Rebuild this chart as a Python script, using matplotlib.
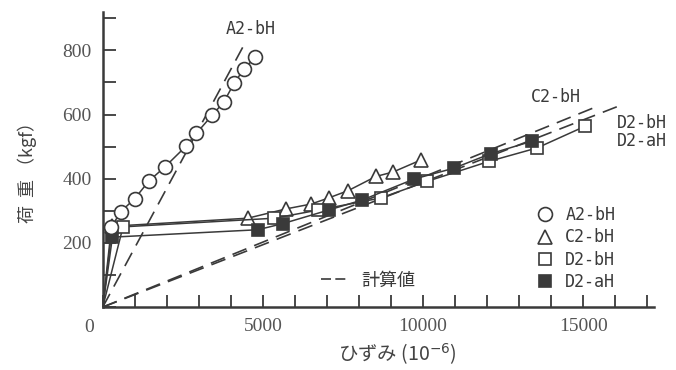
import matplotlib
matplotlib.use("Agg")
import matplotlib.pyplot as plt
from matplotlib.ticker import MultipleLocator, FixedLocator
from matplotlib.lines import Line2D

# 実験値  ひずみ (x10^-6) / 荷重 (kgf)
a2_x = [0, 271, 561, 997, 1443, 1941, 2595, 2919, 3417, 3779, 4103, 4402, 4766]
a2_y = [0, 250, 297, 338, 393, 437, 501, 541, 598, 639, 698, 741, 779]
c2_x = [0, 300, 4527, 5722, 6501, 7050, 7664, 8526, 9065, 9947]
c2_y = [0, 252, 277, 306, 321, 340, 363, 407, 421, 459]
d2b_x = [0, 632, 5358, 6708, 8682, 10134, 12056, 13561, 15047]
d2b_y = [0, 250, 277, 302, 340, 392, 454, 496, 563]
d2a_x = [0, 302, 4838, 5617, 7072, 8109, 9720, 10966, 12109, 13405]
d2a_y = [0, 218, 241, 260, 303, 334, 399, 433, 478, 517]

# 計算値
calc_a2_x = [0, 4480]
calc_a2_y = [0, 830]
calc_c2_x = [0, 15500]
calc_c2_y = [0, 628]
calc_d2_x = [0, 16200]
calc_d2_y = [0, 630]

series_names = ["A2-bH", "C2-bH", "D2-bH", "D2-aH"]

ink = "#3a3a3a"
mono = "DejaVu Sans Mono"
jp = ["Noto Sans CJK JP", "DejaVu Sans"]

fig = plt.figure(figsize=(6.76, 3.70), dpi=100)
ax = fig.add_axes([0.152, 0.170, 0.815, 0.798])

# 計算値 (破線)
dash_kw = dict(color=ink, lw=1.2, dashes=(9, 5), zorder=2)
ax.plot(calc_a2_x, calc_a2_y, **dash_kw)
ax.plot(calc_c2_x, calc_c2_y, **dash_kw)
ax.plot(calc_d2_x, calc_d2_y, **dash_kw)

# 実験値
line_kw = dict(color=ink, lw=1.1, markeredgecolor=ink, markeredgewidth=1.2,
               markevery=slice(1, None))
ax.plot(c2_x, c2_y, marker="^", ms=10, mfc="white", zorder=3, **line_kw)
ax.plot(d2b_x, d2b_y, marker="s", ms=8, mfc="white", zorder=4, **line_kw)
ax.plot(d2a_x, d2a_y, marker="s", ms=8, mfc=ink, zorder=5, **line_kw)
ax.plot(a2_x, a2_y, marker="o", ms=10, mfc="white", zorder=6, **line_kw)

ax.set_xlim(0, 17200)
ax.set_ylim(0, 920)

for s in ["top", "right"]:
    ax.spines[s].set_visible(False)
for s in ["left", "bottom"]:
    ax.spines[s].set_color(ink)
    ax.spines[s].set_linewidth(1.8)

ax.xaxis.set_major_locator(FixedLocator([5000, 10000, 15000]))
ax.xaxis.set_minor_locator(MultipleLocator(1000))
ax.yaxis.set_major_locator(FixedLocator([200, 400, 600, 800]))
ax.yaxis.set_minor_locator(MultipleLocator(100))
ax.tick_params(which="both", direction="in", length=9, width=1.3, color=ink)
ax.tick_params(which="major", labelsize=14, labelcolor="#555555", pad=8)
for lab in ax.get_xticklabels() + ax.get_yticklabels():
    lab.set_fontfamily("Liberation Serif")
ax.text(-0.025, -0.068, "0", transform=ax.transAxes, ha="center", va="center",
        fontsize=14, family="Liberation Serif", color="#555555")

ax.set_xlabel("ひずみ (10$^{-6}$)", family=jp, fontsize=14, color="#444444")
ax.xaxis.set_label_coords(0.535, -0.115)
ax.set_ylabel("荷  重 （kgf）", family=jp, fontsize=13, color="#444444")
ax.yaxis.set_label_coords(-0.12, 0.47)

# 系列名
ax.text(4610, 866, "A2-bH", family=mono, fontsize=12, color=ink, ha="center", va="center")
ax.text(14140, 656, "C2-bH", family=mono, fontsize=12, color=ink, ha="center", va="center")
ax.text(16040, 575, "D2-bH", family=mono, fontsize=12, color=ink, ha="left", va="center")
ax.text(16040, 516, "D2-aH", family=mono, fontsize=12, color=ink, ha="left", va="center")

# 凡例
handles = [
    Line2D([], [], ls="none", marker="o", ms=10, mfc="white", mec=ink, mew=1.2),
    Line2D([], [], ls="none", marker="^", ms=10, mfc="white", mec=ink, mew=1.2),
    Line2D([], [], ls="none", marker="s", ms=8, mfc="white", mec=ink, mew=1.2),
    Line2D([], [], ls="none", marker="s", ms=8, mfc=ink, mec=ink, mew=1.2),
]
leg = ax.legend(handles, series_names, loc="upper left", bbox_to_anchor=(0.77, 0.37),
                frameon=False, handlelength=1.2, handletextpad=0.6, labelspacing=0.25,
                borderpad=0, prop={"family": mono, "size": 12})
for t in leg.get_texts():
    t.set_color(ink)
ax.add_artist(leg)

calc_handle = Line2D([], [], color=ink, lw=1.2, dashes=(6, 2.6))
leg2 = ax.legend([calc_handle], ["計算値"], loc="center left", bbox_to_anchor=(0.38, 0.09),
                 frameon=False, handlelength=1.35, handletextpad=0.9, borderpad=0,
                 prop={"family": jp, "size": 13})
for t in leg2.get_texts():
    t.set_color(ink)

fig.savefig("out.png", dpi=100)
